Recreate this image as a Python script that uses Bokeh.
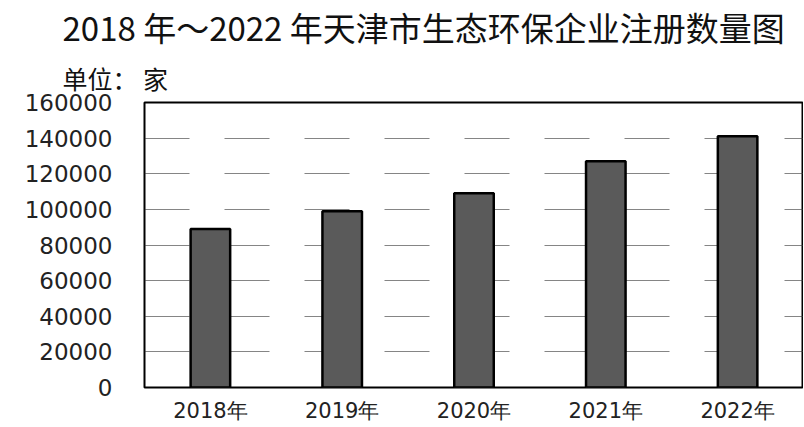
from bokeh.plotting import figure
from bokeh.models import Title, Range1d, FixedTicker, NumeralTickFormatter
from bokeh.embed import file_html
from bokeh.resources import INLINE

years = ["2018年", "2019年", "2020年", "2021年", "2022年"]
counts = [89000, 99000, 109000, 127000, 141000]
y_ticks = [0, 20000, 40000, 60000, 80000, 100000, 120000, 140000, 160000]

p = figure(x_range=years, y_range=Range1d(0, 160000), width=803, height=425,
           output_backend="svg", toolbar_location=None,
           min_border_left=144, min_border_right=0, min_border_top=14,
           min_border_bottom=33)

p.vbar(x=years, top=counts, width=0.3, fill_color="#5a5a5a",
       line_color="black", line_width=2.5)

p.title.text = "2018 年～2022 年天津市生态环保企业注册数量图"
p.title.text_font = "Noto Sans CJK SC"
p.title.text_font_size = "33px"
p.title.text_font_style = "normal"
p.title.text_color = "#111111"
p.title.align = "left"
p.title.offset = -82
p.title.standoff = 0

t = Title(text="单位： 家", text_font="Noto Sans CJK SC",
          text_font_size="25px", text_font_style="normal", align="left", offset=-82,
          standoff=14, text_color="#111111")
p.add_layout(t, "above")

p.outline_line_color = "black"
p.outline_line_width = 2

p.xgrid.grid_line_color = None
p.ygrid.grid_line_color = "#333333"
p.ygrid.grid_line_alpha = 0.6
p.ygrid.grid_line_dash = "45 35"
p.ygrid.ticker = FixedTicker(ticks=y_ticks[1:-1])

p.yaxis.ticker = FixedTicker(ticks=y_ticks)
p.yaxis.formatter = NumeralTickFormatter(format="0")
p.yaxis.axis_line_color = None
p.yaxis.major_tick_line_color = None
p.yaxis.minor_tick_line_color = None
p.yaxis.major_label_standoff = 26
p.yaxis.major_label_text_font = "DejaVu Sans"
p.yaxis.major_label_text_font_size = "23px"
p.yaxis.major_label_text_color = "#222222"

p.xaxis.axis_line_color = None
p.xaxis.major_tick_line_color = None
p.xaxis.major_label_standoff = 5
p.xaxis.major_label_text_font = "DejaVu Sans"
p.xaxis.major_label_text_font_size = "21px"
p.xaxis.major_label_text_color = "#222222"

open("out.html", "w").write(file_html(p, INLINE))
